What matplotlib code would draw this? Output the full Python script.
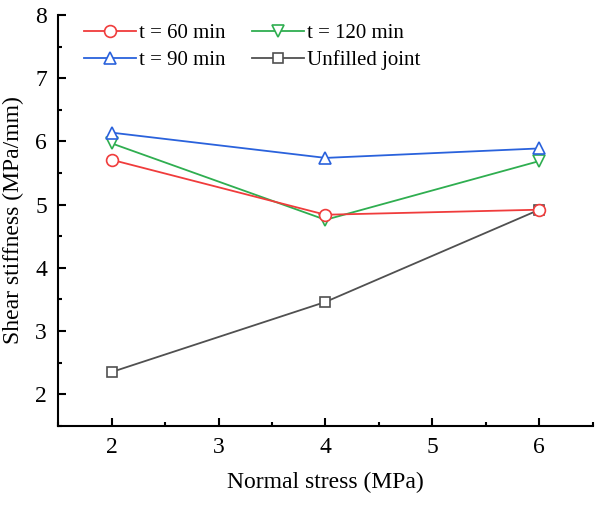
import matplotlib
matplotlib.use('Agg')
import matplotlib.pyplot as plt
from matplotlib.ticker import MultipleLocator

plt.rcParams.update({
    'font.family': ['Liberation Serif', 'DejaVu Serif'],
    'font.size': 13,
    'axes.linewidth': 1.5,
})

# Data
normal_stress = [2, 4, 6]
k_60 = [5.71, 4.84, 4.92]
k_90 = [6.14, 5.74, 5.89]
k_120 = [5.97, 4.76, 5.69]
k_unfilled = [2.35, 3.46, 4.92]

labels = ['t = 60 min', 't = 90 min', 't = 120 min', 'Unfilled joint']
colors = ['#f03c3c', '#2a62dc', '#2fae50', '#505050']
markers = ['o', '^', 'v', 's']
zorders = [4, 5, 3, 2]

fig = plt.figure(figsize=(6.0, 5.05), dpi=100)
ax = fig.add_axes([0.097, 0.157, 0.891, 0.813])

for y, lab, c, m, z in zip([k_60, k_90, k_120, k_unfilled], labels, colors, markers, zorders):
    ms = 7 if m == 's' else 8.5
    ax.plot(normal_stress, y, color=c, marker=m, markersize=ms, markerfacecolor='white',
            markeredgecolor=c, markeredgewidth=1.2, linewidth=1.3, label=lab, zorder=z)

ax.set_xlim(1.5, 6.5)
ax.set_ylim(1.5, 8)
ax.xaxis.set_minor_locator(MultipleLocator(0.5))
ax.yaxis.set_minor_locator(MultipleLocator(0.5))
ax.set_xticks([2, 3, 4, 5, 6])
ax.set_yticks([2, 3, 4, 5, 6, 7, 8])
ax.tick_params(which='major', direction='in', length=6, width=1.5, labelsize=17, pad=8)
ax.tick_params(which='minor', direction='in', length=3, width=1.5)
ax.spines['top'].set_visible(False)
ax.spines['right'].set_visible(False)

ax.set_xlabel('Normal stress (MPa)', fontsize=17, labelpad=10)
ax.set_ylabel('Shear stiffness (MPa/mm)', fontsize=17, labelpad=8)

ax.legend(loc='upper left', bbox_to_anchor=(0.013, 1.025), ncol=2, frameon=False,
          fontsize=15, handlelength=2.5, handletextpad=0.15, columnspacing=1.25,
          labelspacing=0.35)

fig.savefig('out.png', dpi=100)
